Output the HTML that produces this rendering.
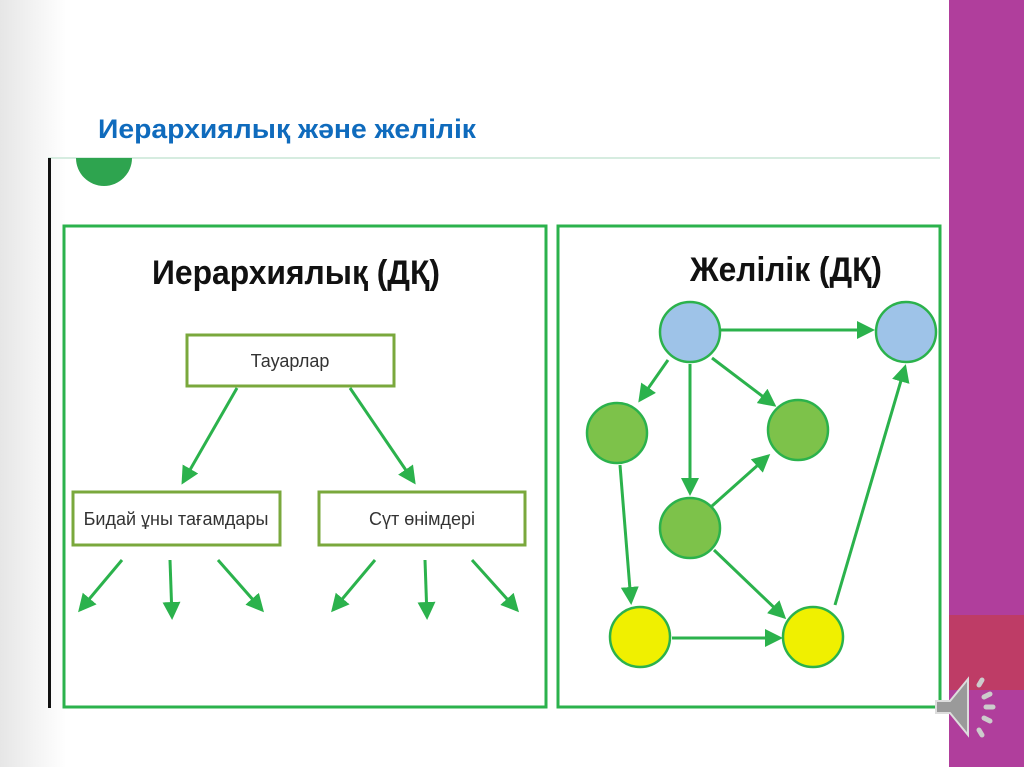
<!DOCTYPE html><html><head><meta charset="utf-8"><style>body{margin:0;width:1024px;height:767px;overflow:hidden;background:#fff;font-family:"Liberation Sans",sans-serif}</style></head><body>
<svg width="1024" height="767" xmlns="http://www.w3.org/2000/svg">
<defs><linearGradient id="g" x1="0" x2="1"><stop offset="0" stop-color="#e6e6e6"/><stop offset="0.07" stop-color="#fff"/><stop offset="1" stop-color="#fff"/></linearGradient>
<marker id="a" markerWidth="6" markerHeight="6" refX="5" refY="3" orient="auto" markerUnits="strokeWidth"><path d="M0,0 L6,3 L0,6 Z" fill="#2bb24c"/></marker></defs>
<rect width="949" height="767" fill="url(#g)"/>
<rect x="949" y="0" width="75" height="767" fill="#b03e9c"/>
<rect x="949" y="615" width="75" height="75" fill="#be3c66"/>
<text x="98" y="138" font-size="27" font-weight="bold" fill="#0f6bbd" textLength="378" lengthAdjust="spacingAndGlyphs">Иерархиялық және желілік</text>
<line x1="48" y1="158" x2="940" y2="158" stroke="#d6ece0" stroke-width="2"/>
<rect x="48" y="158" width="3" height="550" fill="#111"/>
<path d="M76,158 A28,28 0 0 0 132,158 Z" fill="#2ea44f"/>
<rect x="64" y="226" width="482" height="481" fill="none" stroke="#2bb24c" stroke-width="3"/>
<rect x="558" y="226" width="382" height="481" fill="none" stroke="#2bb24c" stroke-width="3"/>
<text x="152" y="284" font-size="34" fill="#111" font-weight="bold" textLength="288" lengthAdjust="spacingAndGlyphs">Иерархиялық (ДҚ)</text>
<text x="690" y="281" font-size="34" fill="#111" font-weight="bold" textLength="192" lengthAdjust="spacingAndGlyphs">Желілік (ДҚ)</text>
<g fill="#fff" stroke="#7aa83c" stroke-width="3">
<rect x="187" y="335" width="207" height="51"/><rect x="73" y="492" width="207" height="53"/><rect x="319" y="492" width="206" height="53"/></g>
<g font-size="18" text-anchor="middle" fill="#333"><text x="290" y="367">Тауарлар</text><text x="176" y="525">Бидай ұны тағамдары</text><text x="422" y="525">Сүт өнімдері</text></g>
<g stroke="#2bb24c" stroke-width="3" fill="none" marker-end="url(#a)">
<line x1="237" y1="388" x2="183" y2="482"/><line x1="350" y1="388" x2="414" y2="482"/>
<line x1="122" y1="560" x2="80" y2="610"/><line x1="170" y1="560" x2="172" y2="617"/><line x1="218" y1="560" x2="262" y2="610"/>
<line x1="375" y1="560" x2="333" y2="610"/><line x1="425" y1="560" x2="427" y2="617"/><line x1="472" y1="560" x2="517" y2="610"/>
<line x1="721" y1="330" x2="872" y2="330"/><line x1="668" y1="360" x2="640" y2="400"/><line x1="690" y1="364" x2="690" y2="493"/>
<line x1="712" y1="358" x2="774" y2="405"/><line x1="712" y1="506" x2="768" y2="456"/><line x1="620" y1="465" x2="631" y2="602"/>
<line x1="714" y1="550" x2="784" y2="617"/><line x1="672" y1="638" x2="780" y2="638"/><line x1="835" y1="605" x2="905" y2="367"/>
</g>
<g stroke="#2bb24c" stroke-width="2.5">
<circle cx="690" cy="332" r="30" fill="#9ec3e8"/><circle cx="906" cy="332" r="30" fill="#9ec3e8"/>
<circle cx="617" cy="433" r="30" fill="#7dc24a"/><circle cx="798" cy="430" r="30" fill="#7dc24a"/><circle cx="690" cy="528" r="30" fill="#7dc24a"/>
<circle cx="640" cy="637" r="30" fill="#f0f000"/><circle cx="813" cy="637" r="30" fill="#f0f000"/></g>
<path d="M936,701 h14 l18,-22 v56 l-18,-22 h-14 Z" fill="#9a9a9a" stroke="#ddd" stroke-width="2"/>
<g stroke="#ccc" stroke-width="5" stroke-linecap="round"><line x1="979" y1="685" x2="982" y2="680"/><line x1="984" y1="697" x2="990" y2="694"/><line x1="986" y1="707" x2="993" y2="707"/><line x1="984" y1="718" x2="990" y2="721"/><line x1="979" y1="730" x2="982" y2="735"/></g>
</svg></body></html>
